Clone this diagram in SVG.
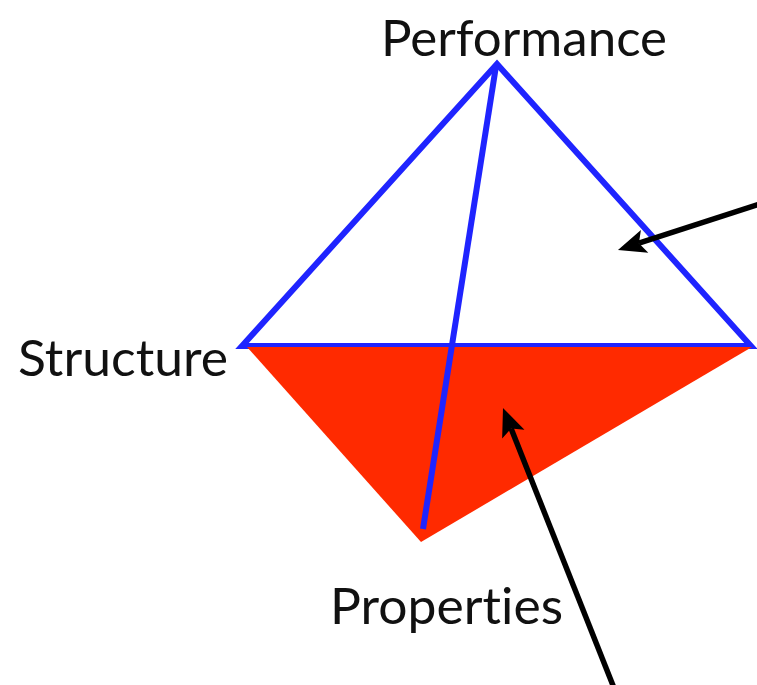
<svg xmlns="http://www.w3.org/2000/svg" width="757" height="685" viewBox="0 0 757 685">
<defs>
<style>
.lbl{font-family:Lato,"Liberation Sans",sans-serif;font-size:50px;fill:#111;font-variant-ligatures:none;}
.blue{fill:none;stroke:#1f24ff;stroke-width:6;stroke-linejoin:miter;}
.arr{fill:none;stroke:#000;stroke-width:5.5;}
</style>
<marker id="ah" markerUnits="userSpaceOnUse" markerWidth="40" markerHeight="40" refX="6" refY="12" orient="auto" overflow="visible">
<path d="M0,0 L28,12 L0,24 L6,12 Z" fill="#000"/>
</marker>
</defs>
<g id="pyramid">
<polygon class="blue" points="242,346 497,64 751,346"/>
<polygon points="247,347 752,347 421,542" fill="#ff2a00"/>
<line class="blue" x1="496" y1="66" x2="423" y2="529"/>
</g>
<g id="performance"><text class="lbl" x="381" y="56" textLength="286" lengthAdjust="spacingAndGlyphs">Performance</text></g>
<g id="structure"><text class="lbl" x="18" y="376" textLength="210" lengthAdjust="spacingAndGlyphs">Structure</text></g>
<g id="properties"><text class="lbl" x="330" y="624" textLength="233" lengthAdjust="spacingAndGlyphs">Properties</text></g>
<g id="connectors">
<line class="arr" x1="760" y1="204" x2="638.9" y2="243.2" marker-end="url(#ah)"/>
<line class="arr" x1="614" y1="688" x2="511.1" y2="428.5" marker-end="url(#ah)"/>
</g>
</svg>
